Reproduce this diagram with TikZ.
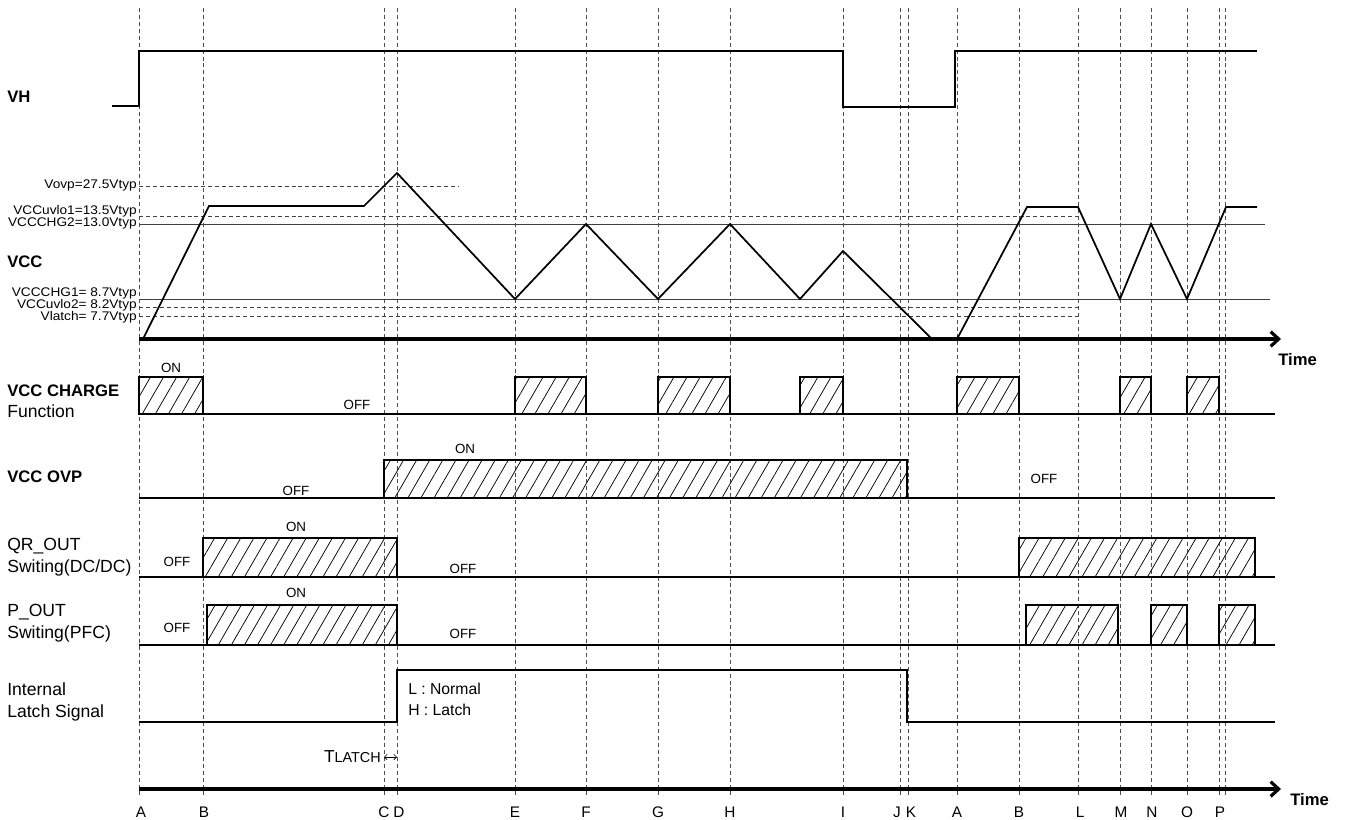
\documentclass[tikz,border=0pt]{standalone}
\usepackage{fontspec}
\setmainfont{Liberation Sans}
\newfontfamily\widefont[FakeStretch=1.09]{Liberation Sans}
\usepackage{tikz}
\usetikzlibrary{arrows.meta,patterns.meta}

\begin{document}
\begin{tikzpicture}[x=0.75pt,y=-0.75pt,
    wave/.style={line width=1.3pt},
    hatch/.style={draw,line width=1.3pt,pattern={Lines[angle=60,distance=8.5pt,line width=0.55pt]}},
    thres/.style={line width=0.6pt,black!75},
    thresdash/.style={dash pattern=on 3pt off 2.2pt,line width=0.6pt,black!75},
    guide/.style={dash pattern=on 3pt off 2.2pt,line width=0.6pt,black!70},
    timeaxis/.style={line width=2.4pt,-{Straight Barb[length=6pt,width=11pt]}},
    sig/.style={anchor=west,inner sep=0,align=left,font=\fontsize{13.2}{16}\selectfont},
    lvl/.style={anchor=east,inner sep=0,font=\widefont\fontsize{9.4}{10}\selectfont},
    state/.style={inner sep=0,font=\fontsize{10}{12}\selectfont},
    tick/.style={inner sep=0,font=\fontsize{11.5}{12}\selectfont}]

\fill[white] (0,0) rectangle (1348,819);
\useasboundingbox (0,0) rectangle (1348,819);

% time marks
\foreach \x/\lx/\n/\lab in {139/141/A1/A, 203/204/B1/B, 384/384/C/C, 397/399/D/D,
    515/515/E/E, 586/586/F/F, 658/658/G/G, 730/730/H/H, 843/843/I/I, 900/897/J/J,
    908/911/K/K, 957/957/A2/A, 1019/1019/B2/B, 1078/1080/L/L, 1120/1121/M/M,
    1151/1152/N/N, 1187/1187/O/O, 1225/1220/P/P}{
  \draw[guide] (\x,8) -- (\x,798);
  \node[tick] (t\n) at (\lx,812) {\lab};
}
\draw[guide] (1219,8) -- (1219,798);

% signal names
\node[sig,font=\fontsize{12.5}{16}\selectfont\bfseries] (lVH) at (7,97) {VH};
\node[sig,font=\fontsize{12.5}{16}\selectfont\bfseries] (lVCC) at (7,262) {VCC};
\node[sig] (lCHG) at (7,401) {{\fontsize{12.5}{16}\selectfont\bfseries VCC CHARGE}\\Function};
\node[sig,font=\fontsize{12.5}{16}\selectfont\bfseries] (lOVP) at (7,477) {VCC OVP};
\node[sig] (lQR) at (7,557) {QR\_OUT\\Switing(DC/DC)};
\node[sig] (lP) at (7,623) {P\_OUT\\Switing(PFC)};
\node[sig] (lLAT) at (7,702) {Internal\\Latch Signal};

% VH
\draw[wave] (112,106) -- (139,106) -- (139,51) -- (843,51) -- (843,107)
  -- (955,107) -- (955,51) -- (1257,51);

% VCC levels
\node[lvl] (vovp) at (137,185) {Vovp=27.5Vtyp};
\node[lvl] (uvlo1) at (137,211) {VCCuvlo1=13.5Vtyp};
\node[lvl] (chg2) at (137,223) {VCCCHG2=13.0Vtyp};
\node[lvl] (chg1) at (137,293) {VCCCHG1= 8.7Vtyp};
\node[lvl] (uvlo2) at (137,305) {VCCuvlo2= 8.2Vtyp};
\node[lvl] (vlat) at (137,317) {Vlatch= 7.7Vtyp};
\draw[thresdash] (139,186) -- (459,186);
\draw[thresdash] (139,216) -- (1078,216);
\draw[thres] (139,224) -- (1265,224);
\draw[thres] (139,299) -- (1270,299);
\draw[thresdash] (139,307) -- (1078,307);
\draw[thresdash] (139,316) -- (1078,316);

\draw[wave] (143,339) -- (209,206) -- (364,206) -- (397,173) -- (515,299)
  -- (586,224) -- (658,299) -- (730,224) -- (800,299) -- (843,251)
  -- (932,339) -- (957,339) -- (1027,207) -- (1078,207) -- (1120,299)
  -- (1151,224) -- (1187,299) -- (1226,207) -- (1257,207);

\draw[timeaxis] (139,339) -- (1281,339);
\node[sig,font=\fontsize{12.5}{15}\selectfont\bfseries] (time1) at (1278,360) {Time};

% VCC CHARGE
\draw[wave] (139,414) -- (1275,414);
\foreach \a/\b in {139/203, 515/586, 658/730, 800/843, 957/1019, 1120/1151, 1187/1219}
  \draw[hatch] (\a,377) rectangle (\b,414);
\node[state] (chgon) at (171,368) {ON};
\node[state] (chgoff) at (357,405) {OFF};

% VCC OVP
\draw[wave] (139,498) -- (1275,498);
\draw[hatch] (384,460) rectangle (907,498);
\node[state] (ovpon) at (465,449) {ON};
\node[state] (ovpoff) at (296,491) {OFF};
\node[state] (ovpoff2) at (1044,479) {OFF};

% QR_OUT
\draw[wave] (139,577) -- (1275,577);
\draw[hatch] (203,538) rectangle (397,577);
\draw[hatch] (1019,538) rectangle (1255,577);
\node[state] (qron) at (296,527) {ON};
\node[state] (qroff) at (177,562) {OFF};
\node[state] (qroff2) at (463,569) {OFF};

% P_OUT
\draw[wave] (139,645) -- (1275,645);
\foreach \a/\b in {207/397, 1026/1118, 1151/1187, 1219/1255}
  \draw[hatch] (\a,605) rectangle (\b,645);
\node[state] (pon) at (296,593) {ON};
\node[state] (poff) at (177,628) {OFF};
\node[state] (poff2) at (463,634) {OFF};

% latch
\draw[wave] (139,722) -- (397,722) -- (397,670) -- (907,670) -- (907,722) -- (1275,722);
\node[state,anchor=west,font=\fontsize{11.8}{12}\selectfont] (lnorm) at (408,689) {L : Normal};
\node[state,anchor=west,font=\fontsize{11.8}{12}\selectfont] (hlat) at (408,710) {H : Latch};

\node[state,anchor=east,font=\fontsize{13}{13}\selectfont] (tlatch) at (381,757)
  {T{\fontsize{10.8}{11}\selectfont LATCH}};
\draw[line width=0.5pt,{Straight Barb[length=2pt,width=4pt]}-{Straight Barb[length=2pt,width=4pt]}] (384,757) -- (397,757);

\draw[timeaxis] (139,789) -- (1281,789);
\node[sig,font=\fontsize{12.5}{15}\selectfont\bfseries] (time2) at (1290,800) {Time};

\end{tikzpicture}
\end{document}
